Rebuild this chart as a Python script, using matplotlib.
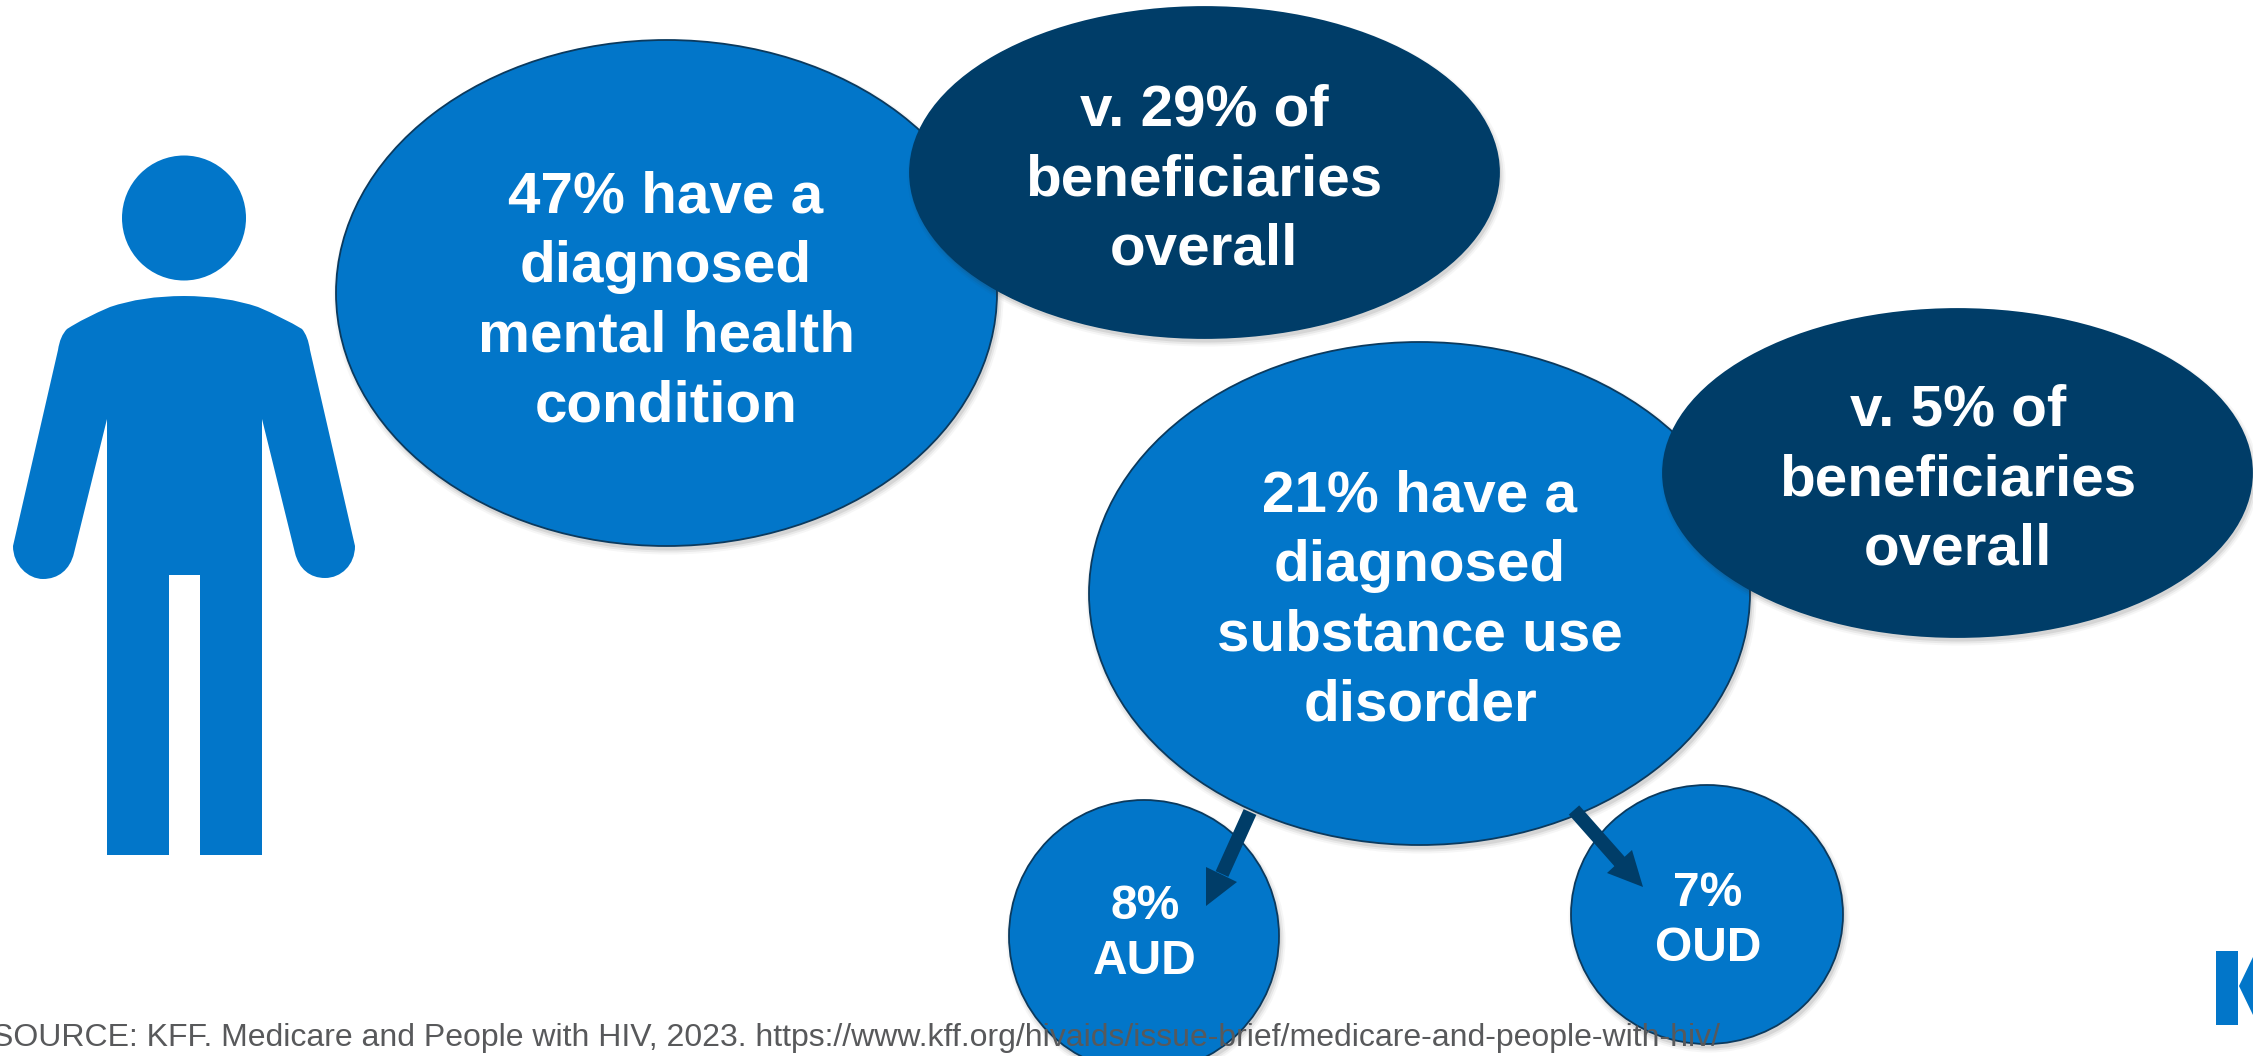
import matplotlib
matplotlib.use("Agg")
import matplotlib.pyplot as plt
from matplotlib.patches import Ellipse, Polygon, PathPatch
from matplotlib.path import Path

W, H = 2253, 1056
BLUE = "#0276c9"
NAVY = "#003d68"
EDGE = "#0b3a5e"
GREY = "#58595b"

# Share of people with HIV on Medicare against all beneficiaries
mental_health_pct = 47
mental_health_overall_pct = 29
substance_use_pct = 21
substance_use_overall_pct = 5
aud_pct = 8
oud_pct = 7

source_note = ("SOURCE: KFF. Medicare and People with HIV, 2023. "
               "https://www.kff.org/hivaids/issue-brief/medicare-and-people-with-hiv/")

plt.rcParams["font.family"] = ["Liberation Sans", "DejaVu Sans"]
fig = plt.figure(figsize=(W / 100, H / 100), dpi=100, facecolor="white")
ax = fig.add_axes([0, 0, 1, 1])
ax.set_xlim(0, W)
ax.set_ylim(H, 0)
ax.axis("off")


def bubble(x0, x1, y0, y1, color, z, label, size, cx, cy, spacing, edge=EDGE):
    """Ellipse with a soft drop shadow and a centred white label."""
    xc, yc = (x0 + x1) / 2, (y0 + y1) / 2
    w, h = x1 - x0, y1 - y0
    for grow, alpha in ((9, 0.04), (5, 0.07), (1, 0.10)):
        ax.add_patch(Ellipse((xc + 2, yc + 4), w + grow, h + grow,
                             fc="#303030", ec="none", alpha=alpha, zorder=z))
    ax.add_patch(Ellipse((xc, yc), w, h, fc=color, ec=edge, lw=1.3, zorder=z + 0.1))
    ax.text(cx, cy, label, color="white", fontsize=size, fontweight="bold",
            ha="center", va="center", linespacing=spacing, zorder=20)


big = 42
small = 34.5
big_gap = 1.38
small_gap = 1.27
bubble(336, 997, 40, 546, BLUE, 2,
       f"{mental_health_pct}% have a\ndiagnosed\nmental health\ncondition", big,
       666, 302, big_gap)
bubble(910, 1499, 7, 338, NAVY, 3,
       f"v. {mental_health_overall_pct}% of\nbeneficiaries\noverall", big,
       1204, 180, big_gap, edge=NAVY)
bubble(1089, 1750, 342, 845, BLUE, 4,
       f"{substance_use_pct}% have a\ndiagnosed\nsubstance use\ndisorder", big,
       1420, 601, big_gap)
bubble(1663, 2252, 309, 637, NAVY, 5,
       f"v. {substance_use_overall_pct}% of\nbeneficiaries\noverall", big,
       1958, 480, big_gap, edge=NAVY)
bubble(1009, 1279, 800, 1072, BLUE, 1,
       f"{aud_pct}%\nAUD", small, 1145, 934, small_gap)
bubble(1571, 1843, 785, 1044, BLUE, 1,
       f"{oud_pct}%\nOUD", small, 1708, 921, small_gap)

# Arrows from the substance use bubble to its two sub-groups
for shaft, head in (
    ([(1250, 812), (1222, 874)], [(1206, 867), (1237, 882), (1206, 906)]),
    ([(1574, 810), (1620, 862)], [(1632, 850), (1607, 873), (1643, 887)]),
):
    ax.plot(*zip(*shaft), color=NAVY, lw=10, solid_capstyle="butt", zorder=8)
    ax.add_patch(Polygon(head, closed=True, fc=NAVY, ec="none", zorder=8))

# Person icon
ax.add_patch(Ellipse((184, 218), 124, 125, fc=BLUE, ec="none", zorder=1))
M, L, Q, C = Path.MOVETO, Path.LINETO, Path.CURVE3, Path.CURVE4
outline = [
    (M, (184, 296)),
    (Q, (142, 296)), (Q, (110, 307)),
    (Q, (84, 318)), (Q, (67, 329)),
    (Q, (60, 336)), (Q, (58, 350)),
    (L, (13, 546)),
    (C, (13, 565)), (C, (28, 579)), (C, (43, 579)),
    (C, (58, 579)), (C, (70, 570)), (C, (74, 553)),
    (L, (107, 419)), (L, (107, 855)), (L, (169, 855)), (L, (169, 575)),
    (L, (200, 575)), (L, (200, 855)), (L, (262, 855)), (L, (262, 419)),
    (L, (295, 553)),
    (C, (299, 569)), (C, (310, 578)), (C, (325, 578)),
    (C, (341, 578)), (C, (355, 565)), (C, (355, 546)),
    (L, (310, 350)),
    (Q, (308, 336)), (Q, (302, 329)),
    (Q, (284, 318)), (Q, (258, 307)),
    (Q, (226, 296)), (Q, (184, 296)),
]
codes, verts = zip(*outline)
ax.add_patch(PathPatch(Path(verts, codes), fc=BLUE, ec="none", zorder=1))

# Logo fragment at the right edge
ax.add_patch(Polygon([(2216, 951), (2238, 951), (2238, 1025), (2216, 1025)],
                     fc=BLUE, ec="none", zorder=1))
ax.add_patch(Polygon([(2253, 957), (2239, 986), (2253, 1015)],
                     fc=BLUE, ec="none", zorder=1))

ax.text(-8, 1038, source_note, color=GREY, fontsize=23, ha="left", va="center", zorder=21)

fig.savefig("out.png", dpi=100, facecolor="white")
